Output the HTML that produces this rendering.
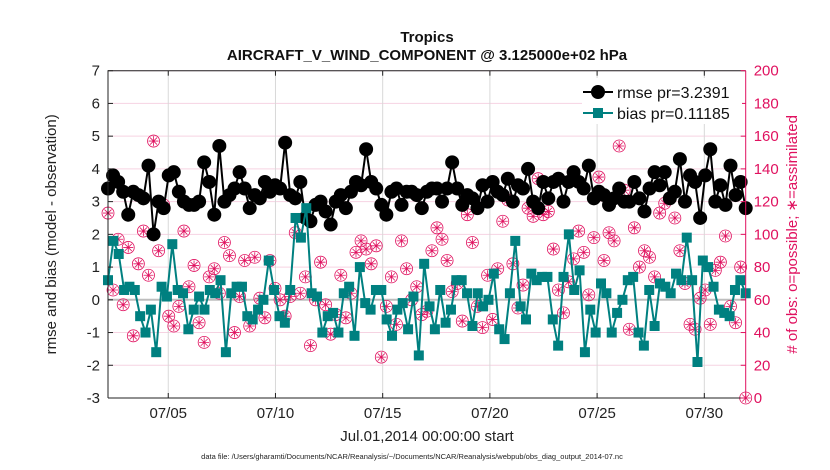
<!DOCTYPE html>
<html><head><meta charset="utf-8"><style>
body{margin:0;background:#fff;}
svg{display:block;font-family:"Liberation Sans",sans-serif;}
</style></head><body>
<svg id="chart" width="830" height="470" viewBox="0 0 830 470"></svg>
<script>
const rmse=[3.4,3.8,3.6,3.3,2.6,3.3,3.2,3.1,4.1,2.0,3.0,2.8,3.8,3.9,3.3,3.0,2.9,2.9,3.0,4.2,3.6,2.6,4.7,3.0,3.2,3.4,3.9,3.4,2.8,3.2,3.1,3.6,3.3,3.5,3.4,4.8,3.2,3.1,3.6,2.5,2.4,2.9,3.0,2.7,2.3,3.0,3.2,2.8,3.3,3.6,3.5,4.6,3.6,3.4,2.9,2.6,3.3,3.4,2.9,3.3,3.3,3.2,2.8,3.3,3.4,3.4,3.0,3.4,4.2,3.4,2.9,3.2,3.1,2.8,3.5,3.0,3.6,3.3,3.2,3.7,3.0,3.5,3.4,4.0,3.0,2.8,3.6,3.1,3.6,3.7,3.0,3.6,3.9,3.6,3.4,4.1,3.1,3.3,3.2,2.9,3.1,3.4,3.0,3.0,3.6,3.1,2.7,3.4,3.9,3.5,3.9,3.1,3.3,4.3,3.0,3.8,3.6,2.5,3.8,4.6,3.0,3.5,2.9,4.1,3.2,3.6,2.8];
const bias=[0.6,1.8,1.4,0.3,0.4,0.3,-0.5,-1.0,-0.3,-1.6,0.4,0.1,1.7,0.3,0.2,-0.9,-0.3,0.1,-0.3,0.3,0.2,0.6,-1.6,0.2,0.4,0.4,-0.5,-0.6,-0.3,0.0,1.2,0.3,-0.5,-0.7,0.3,2.5,1.9,2.8,0.2,0.1,-1.0,-0.5,-0.4,-1.0,0.2,0.4,-1.1,1.0,-0.1,-0.3,0.3,0.3,-0.6,-1.1,-0.3,-0.1,-0.9,0.1,-1.7,1.1,-0.2,-0.9,0.3,-0.7,-0.3,0.6,0.6,0.2,-0.8,0.2,-0.2,0.0,0.8,-0.9,-1.2,0.2,1.8,-0.2,-0.6,0.8,0.6,0.7,0.7,-0.6,-1.4,0.7,2.0,0.3,0.9,-1.6,-0.3,-1.0,0.5,0.2,-1.0,-0.4,0.0,0.6,0.7,-1.0,-1.4,0.3,-0.8,0.5,0.4,0.2,0.8,0.6,1.9,0.6,-1.9,1.2,1.0,0.4,-0.3,-0.4,-0.5,0.3,0.6,0.2];
const obsCount=[113,66,97,57,92,38,82,102,75,157,90,118,50,44,56,102,68,81,46,34,74,79,64,95,87,40,62,84,44,86,61,49,84,67,60,50,62,101,64,74,32,60,83,57,39,51,75,49,64,89,96,91,82,93,25,56,74,45,96,79,60,68,51,53,90,104,97,84,65,70,47,112,95,56,43,75,48,79,108,121,82,55,69,116,111,134,112,114,91,66,52,71,85,102,89,63,98,135,84,101,96,154,127,42,104,80,90,86,74,113,119,122,110,90,70,45,42,61,66,45,78,83,99,56,46,80,0];
const leftTicks=[-3,-2,-1,0,1,2,3,4,5,6,7];
const rightTicks=[0,20,40,60,80,100,120,140,160,180,200];
const xTickDays=[5,10,15,20,25,30];
const xTickLabels=["07/05","07/10","07/15","07/20","07/25","07/30"];
const startDay=2.19, endDay=31.93;

const svg=document.getElementById('chart');
const NS='http://www.w3.org/2000/svg';
const L=108,R=745.7,T=70.7,B=398;
const yL=v=>B-(v+3)/10*(B-T);
const yR=v=>B-v/200*(B-T);
const xD=d=>L+(d-startDay)/(endDay-startDay)*(R-L);
const xI=(i,n)=>xD(startDay+i*(endDay-startDay)/(n-1));
function el(tag,attrs,parent){const e=document.createElementNS(NS,tag);for(const k in attrs)e.setAttribute(k,attrs[k]);(parent||svg).appendChild(e);return e;}
function txt(s,attrs){const e=el('text',attrs);e.textContent=s;return e;}

leftTicks.forEach(t=>{const g=el('line',{x1:L,x2:R,y1:yL(t),y2:yL(t),stroke:'#f6d3e2','stroke-width':1});

});
xTickDays.forEach(d=>{const g=el('line',{x1:xD(d),x2:xD(d),y1:T,y2:B,stroke:'#d8d8d8','stroke-width':1});

});
const z=el('line',{x1:L,x2:R,y1:yL(0),y2:yL(0),stroke:'#bdbdbd','stroke-width':2});



obsCount.forEach((c,i)=>{const x=xI(i,obsCount.length),y=yR(c);
const g=el('g',{stroke:'#e0115f',fill:'none','stroke-width':0.8});


el('circle',{cx:x,cy:y,r:6},g);
el('path',{d:`M${x-5} ${y}H${x+5}M${x} ${y-5}V${y+5}M${x-3.5} ${y-3.5}L${x+3.5} ${y+3.5}M${x-3.5} ${y+3.5}L${x+3.5} ${y-3.5}`},g);});

const rp=rmse.map((v,i)=>xI(i,rmse.length).toFixed(1)+','+yL(v).toFixed(1)).join(' ');
const rl=el('polyline',{points:rp,fill:'none',stroke:'#000','stroke-width':2});


rmse.forEach((v,i)=>{const c=el('circle',{cx:xI(i,rmse.length),cy:yL(v),r:7,fill:'#000'});

});

const bp=bias.map((v,i)=>xI(i,bias.length).toFixed(1)+','+yL(v).toFixed(1)).join(' ');
const bl=el('polyline',{points:bp,fill:'none',stroke:'#008080','stroke-width':2});


bias.forEach((v,i)=>{const s=el('rect',{x:xI(i,bias.length)-5,y:yL(v)-5,width:10,height:10,fill:'#008080'});

});

const fr=el('path',{d:`M${L} ${B}V${T}H${R}`,fill:'none',stroke:'#222','stroke-width':1});


const xb=el('line',{x1:L,x2:R,y1:B,y2:B,stroke:'#222'});


const ra=el('line',{x1:R,x2:R,y1:T,y2:B,stroke:'#e0115f'});



leftTicks.forEach(t=>{el('line',{x1:L,x2:L+5,y1:yL(t),y2:yL(t),stroke:'#222'});
const e=txt(String(t),{x:L-8,y:yL(t)+5,'text-anchor':'end','font-size':15,fill:'#222'});

});
rightTicks.forEach(t=>{el('line',{x1:R-5,x2:R,y1:yR(t),y2:yR(t),stroke:'#e0115f'});
const e=txt(String(t),{x:R+8,y:yR(t)+5,'font-size':15,fill:'#e0115f'});

});
xTickDays.forEach((d,i)=>{el('line',{x1:xD(d),x2:xD(d),y1:B,y2:B-5,stroke:'#222'});el('line',{x1:xD(d),x2:xD(d),y1:T,y2:T+5,stroke:'#222'});
const e=txt(xTickLabels[i],{x:xD(d),y:B+20,'text-anchor':'middle','font-size':15,fill:'#222'});

});

const lg=el('g',{});


el('rect',{x:582,y:78,width:160,height:46,fill:'#fff'},lg);
el('line',{x1:583,x2:613,y1:92,y2:92,stroke:'#000','stroke-width':2},lg);
el('circle',{cx:598,cy:92,r:7,fill:'#000'},lg);
const t1=txt('rmse pr=3.2391',{x:617,y:98,'font-size':16,fill:'#111'});lg.appendChild(t1);
el('line',{x1:583,x2:613,y1:113,y2:113,stroke:'#008080','stroke-width':2},lg);
el('rect',{x:593,y:108,width:10,height:10,fill:'#008080'},lg);
const t2=txt('bias pr=0.11185',{x:617,y:119,'font-size':16,fill:'#111'});lg.appendChild(t2);

let e;
e=txt('Tropics',{x:427,y:42,'text-anchor':'middle','font-size':15,'font-weight':'bold',fill:'#111'});


e=txt('AIRCRAFT_V_WIND_COMPONENT @ 3.125000e+02 hPa',{x:427,y:60,'text-anchor':'middle','font-size':15,'font-weight':'bold',fill:'#111'});


e=txt('rmse and bias (model - observation)',{x:0,y:0,'text-anchor':'middle','font-size':15,fill:'#222',transform:`translate(56,${(T+B)/2}) rotate(-90)`});


e=txt('# of obs: o=possible; \u2217=assimilated',{x:0,y:0,'text-anchor':'middle','font-size':15,fill:'#e0115f',transform:`translate(797,${(T+B)/2}) rotate(-90)`});


e=txt('Jul.01,2014 00:00:00 start',{x:427,y:441,'text-anchor':'middle','font-size':15,fill:'#222'});


e=txt('data file: /Users/gharamti/Documents/NCAR/Reanalysis/~/Documents/NCAR/Reanalysis/webpub/obs_diag_output_2014-07.nc',{x:412,y:459,'text-anchor':'middle','font-size':7.5,fill:'#222'});


</script>
</body></html>
